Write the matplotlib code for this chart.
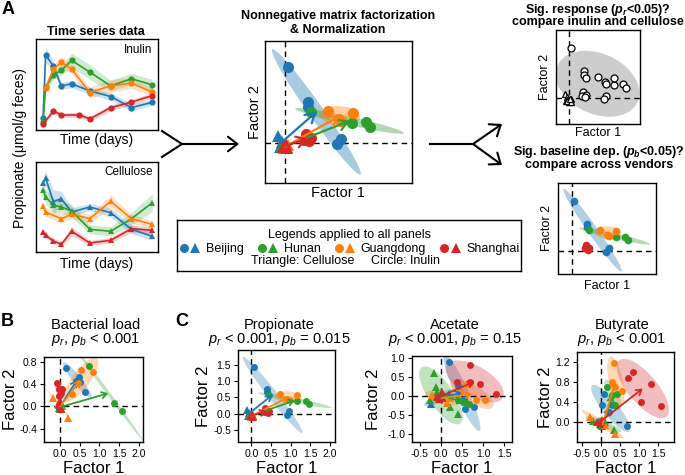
import numpy as np
import matplotlib
matplotlib.use("Agg")
import matplotlib.pyplot as plt
from matplotlib.patches import Ellipse, FancyArrowPatch
from matplotlib.lines import Line2D
from matplotlib.legend_handler import HandlerTuple

plt.rcParams['font.family'] = ['Liberation Sans', 'DejaVu Sans']
plt.rcParams['mathtext.fontset'] = 'custom'
plt.rcParams['mathtext.rm'] = 'Liberation Sans'
plt.rcParams['mathtext.it'] = 'Liberation Sans:italic'
plt.rcParams['mathtext.bf'] = 'Liberation Sans:bold'
plt.rcParams['mathtext.bfit'] = 'Liberation Sans:italic:bold'

nan = float("nan")

# ---------------- data ----------------
vendors = ["Beijing", "Hunan", "Guangdong", "Shanghai"]
vendor_colors = ["#1f77b4", "#2ca02c", "#ff7f0e", "#d62728"]

# Panel A time series (propionate, arbitrary units)
inu_days = [0, 0.5, 2, 3.5, 5.5, 7, 9, 13, 17, 21]
inu_beijing = [1.29, 8.27, 6.99, 4.85, 5.07, nan, 4.30, 3.68, 2.46, 3.05]
inu_hunan = [0.90, 4.71, 6.07, 6.54, 7.65, nan, 6.36, 4.85, 5.63, 4.96]
inu_guangdong = [nan, 4.60, 6.69, 7.43, 6.69, nan, 4.12, 4.85, 5.15, 4.15]
inu_shanghai = [0.63, nan, 2.10, 1.65, nan, 1.65, 1.21, 2.46, 3.05, 3.79]
inu_beijing_err = [0.3, 0.9, 0.5, 0.4, 0.4, nan, 0.4, 0.4, 0.4, 0.3]
inu_hunan_err = [0.3, 0.5, 0.5, 0.5, 0.8, nan, 0.8, 0.6, 0.6, 0.6]
inu_guangdong_err = [nan, 0.5, 0.6, 0.6, 0.5, nan, 0.6, 0.7, 0.6, 0.4]
inu_shanghai_err = [0.2, nan, 0.3, 0.25, nan, 0.3, 0.3, 0.3, 0.3, 0.3]

cel_days = [0, 0.5, 2, 3.5, 5.5, 9, 13, 17, 21]
cel_beijing = [7.70, 8.20, 5.60, 5.93, 4.44, 5.00, 4.37, 2.52, 1.74]
cel_hunan = [6.93, 6.11, 5.19, 5.00, 4.56, 2.52, 2.30, 3.70, 5.48]
cel_guangdong = [5.07, 4.44, nan, 3.70, 4.19, 3.70, 5.63, 3.70, 3.07]
cel_shanghai = [2.22, 1.85, 1.22, 0.85, 2.30, 1.00, 1.30, 2.59, 2.41]
cel_beijing_err = [0.6, 0.8, 1.3, 0.8, 0.5, 0.4, 0.5, 0.5, 0.4]
cel_hunan_err = [0.6, 0.8, 0.8, 0.7, 0.7, 0.5, 0.5, 0.7, 1.0]
cel_guangdong_err = [0.5, 0.5, nan, 0.5, 0.5, 0.5, 0.7, 0.5, 0.4]
cel_shanghai_err = [0.3, 0.3, 0.3, 0.3, 0.5, 0.3, 0.3, 0.4, 0.4]

# NMF factors, vendor order: Beijing, Hunan, Guangdong, Shanghai
prop_inu_f1 = [[0.06, 0.39, 0.39, 0.96, 0.90], [0.44, 1.15, 1.39, 1.46], [0.74, 1.16, 0.92, 0.96], [0.36, 0.44, 0.33, 0.42]]
prop_inu_f2 = [[1.43, 0.77, 0.67, 0.07, -0.03], [0.58, 0.38, 0.40, 0.29], [0.60, 0.57, 0.45, 0.41], [0.16, 0.08, 0.06, 0.03]]
prop_cel_f1 = [[-0.11, -0.05, 0.00, -0.08], [-0.02, 0.03, 0.00, -0.05], [0.02, -0.03, 0.05, 0.00], [0.00, -0.04, 0.04, 0.02]]
prop_cel_f2 = [[0.12, 0.02, -0.05, -0.08], [-0.05, -0.08, -0.10, -0.06], [-0.06, -0.09, -0.04, -0.10], [-0.05, -0.08, -0.10, -0.02]]

bac_inu_f1 = [[0.15, 0.48, 0.51, 0.64, 0.40], [0.73, 1.37, 1.58], [0.53, 0.83, 0.45, 0.30], [-0.09, 0.06, -0.04, -0.02, 0.02]]
bac_inu_f2 = [[0.70, 0.53, 0.44, 0.26, 0.45], [0.72, 0.07, -0.08], [0.65, 0.62, 0.42, 0.22], [0.42, 0.32, 0.31, 0.19, 0.25]]
bac_cel_f1 = [[0.00, -0.03, 0.03, 0.01], [0.02, -0.02, 0.04, 0.00], [-0.19, 0.21, 0.02, -0.05], [0.00, -0.02, 0.03, 0.00]]
bac_cel_f2 = [[0.02, -0.02, 0.05, -0.04], [-0.02, 0.03, 0.00, -0.05], [0.16, -0.20, 0.00, 0.05], [0.00, 0.05, -0.05, 0.10]]

ace_inu_f1 = [[0.19, 0.40, 0.57, 0.78, 0.55], [0.53, 0.67, 0.41, 0.60], [0.61, 0.84, 1.04, 0.45], [0.69, 0.38, 0.70, 0.92, 1.31]]
ace_inu_f2 = [[0.88, 0.25, -0.35, -0.29, -0.10], [-0.16, -0.23, -0.11, -0.20], [0.30, -0.11, -0.11, 0.09], [0.81, 0.37, 0.35, 0.30, 0.04]]
ace_cel_f1 = [[-0.23, 0.20, -0.10, 0.05], [-0.17, -0.11, -0.25, 0.22, 0.41, -0.09], [-0.21, 0.14, -0.08, 0.22], [-0.05, 0.02, -0.10, 0.03]]
ace_cel_f2 = [[-0.21, 0.05, 0.00, -0.05], [0.59, 0.24, -0.11, -0.29, -0.47, 0.09], [0.02, -0.20, -0.03, -0.05], [-0.10, 0.09, -0.03, -0.06]]

but_inu_f1 = [[0.07, 0.04, 0.29, 0.68, 0.20], [0.16, 0.42, 0.37, 0.28], [0.34, 0.29, 0.38, 0.55], [0.85, 0.72, 1.31, 1.05, 1.57]]
but_inu_f2 = [[0.57, 0.34, 0.34, -0.08, 0.20], [0.71, 0.57, 0.34, 0.55], [1.18, 0.80, 0.70, 0.62], [1.01, 0.88, 0.76, 0.41, 0.32]]
but_cel_f1 = [[0.03, 0.00, -0.05, 0.05], [-0.22, 0.35, 0.00, 0.10], [0.37, -0.30, 0.10, 0.00], [-0.10, -0.02, 0.04, 0.00]]
but_cel_f2 = [[-0.08, -0.02, 0.02, 0.00], [0.03, -0.15, -0.05, 0.00], [-0.24, 0.10, -0.05, 0.02], [0.01, -0.03, 0.05, 0.00]]

# ---------------- figure helpers ----------------
W, H = 685, 475
fig = plt.figure(figsize=(W / 100, H / 100), dpi=100)


def fx(x):
    return x / W


def fy(y):
    return 1 - y / H


def px_axes(x0, y0, x1, y1):
    ax = fig.add_axes([fx(x0), fy(y1), (x1 - x0) / W, (y1 - y0) / H])
    for s in ax.spines.values():
        s.set_linewidth(1.0)
    return ax


def ftext(x, y, s, **kw):
    kw.setdefault('ha', 'center')
    kw.setdefault('va', 'center')
    return fig.text(fx(x), fy(y), s, **kw)


def add_ellipse(ax, x, y, color, alpha, n_std=2.0, zorder=1):
    x = np.asarray(x, float)
    y = np.asarray(y, float)
    cov = np.cov(x, y)
    vals, vecs = np.linalg.eigh(cov)
    order = vals.argsort()[::-1]
    vals = vals[order]
    vecs = vecs[:, order]
    angle = np.degrees(np.arctan2(vecs[1, 0], vecs[0, 0]))
    w, h = 2 * n_std * np.sqrt(np.maximum(vals, 1e-5))
    ax.add_patch(Ellipse((x.mean(), y.mean()), w, h, angle=angle,
                         facecolor=color, alpha=alpha, edgecolor='none', zorder=zorder))


def zero_lines(ax):
    ax.axhline(0, color='black', lw=1.0, ls=(0, (4, 3)), zorder=2)
    ax.axvline(0, color='black', lw=1.0, ls=(0, (4, 3)), zorder=2)


def nmf_panel(ax, inu_f1, inu_f2, cel_f1, cel_f2, ms_c, ms_t, arrow_lw, arrow_scale,
              ell_alpha=0.35, show_cel=True, show_arrows=True):
    for i, c in enumerate(vendor_colors):
        add_ellipse(ax, inu_f1[i], inu_f2[i], c, ell_alpha)
        if show_cel:
            add_ellipse(ax, cel_f1[i], cel_f2[i], c, ell_alpha)
    zero_lines(ax)
    for i, c in enumerate(vendor_colors):
        if show_cel:
            ax.plot(cel_f1[i], cel_f2[i], ls='', marker='^', ms=ms_t, color=c, mew=0, zorder=3)
        ax.plot(inu_f1[i], inu_f2[i], ls='', marker='o', ms=ms_c, color=c, mew=0, zorder=3)
    if show_arrows:
        for i, c in enumerate(vendor_colors):
            ax.annotate('', xy=(np.mean(inu_f1[i]), np.mean(inu_f2[i])),
                        xytext=(np.mean(cel_f1[i]), np.mean(cel_f2[i])),
                        arrowprops=dict(arrowstyle='->,head_length=0.4,head_width=0.25',
                                        color=c, lw=arrow_lw, shrinkA=0, shrinkB=0,
                                        mutation_scale=arrow_scale),
                        zorder=4)


def ts_panel(ax, days, series, errs, marker, label, lx, ly):
    d = np.asarray(days, float)
    for vals, err, c in zip(series, errs, vendor_colors):
        v = np.asarray(vals, float)
        e = np.asarray(err, float)
        m = ~np.isnan(v)
        ax.fill_between(d[m], v[m] - e[m], v[m] + e[m], color=c, alpha=0.22, lw=0)
        ax.plot(d[m], v[m], color=c, lw=1.2, marker=marker, ms=4.5 if marker == 'o' else 5, mew=0)
    ax.set_xlim(-1.35, 22.1)
    ax.set_ylim(0, 10)
    ax.set_xticks([])
    ax.set_yticks([])
    ax.text(lx, ly, label, transform=ax.transAxes, ha='right', va='center', fontsize=8.5)


# ---------------- Panel A: time series ----------------
ax_inu = px_axes(36, 39, 158, 130)
ts_panel(ax_inu, inu_days, [inu_beijing, inu_hunan, inu_guangdong, inu_shanghai],
         [inu_beijing_err, inu_hunan_err, inu_guangdong_err, inu_shanghai_err], 'o', 'Inulin', 0.955, 0.88)
ax_cel = px_axes(36, 162, 158, 252)
ts_panel(ax_cel, cel_days, [cel_beijing, cel_hunan, cel_guangdong, cel_shanghai],
         [cel_beijing_err, cel_hunan_err, cel_guangdong_err, cel_shanghai_err], '^', 'Cellulose', 0.96, 0.89)

ftext(8, 9, 'A', fontsize=13, fontweight='bold')
ftext(96, 35, 'Time series data', fontsize=9, fontweight='bold', va='baseline')
ftext(97, 140, 'Time (days)', fontsize=10)
ftext(97, 264, 'Time (days)', fontsize=10)
ftext(20, 148, 'Propionate (μmol/g feces)', fontsize=10, rotation=90)

# ---------------- Panel A: NMF middle ----------------
ax_mid = px_axes(265, 41, 412, 183)
nmf_panel(ax_mid, prop_inu_f1, prop_inu_f2, prop_cel_f1, prop_cel_f2, 8, 8.5, 1.6, 16, ell_alpha=0.38)
ax_mid.set_xlim(-0.34, 2.18)
ax_mid.set_ylim(-0.76, 1.92)
ax_mid.set_xticks([])
ax_mid.set_yticks([])
ftext(338, 19, 'Nonnegative matrix factorization', fontsize=9, fontweight='bold', va='baseline')
ftext(338, 33, '& Normalization', fontsize=9, fontweight='bold', va='baseline')
ftext(255, 112, 'Factor 2', fontsize=10.5, rotation=90)
ftext(338, 193, 'Factor 1', fontsize=10.5)

# ---------------- Panel A: right top (response) ----------------
ax_rt = px_axes(556, 30, 640, 124)
all_inu_f1 = np.concatenate([np.asarray(a, float) for a in prop_inu_f1])
all_inu_f2 = np.concatenate([np.asarray(a, float) for a in prop_inu_f2])
all_cel_f1 = np.concatenate([np.asarray(a, float) for a in prop_cel_f1])
all_cel_f2 = np.concatenate([np.asarray(a, float) for a in prop_cel_f2])
add_ellipse(ax_rt, all_inu_f1, all_inu_f2, '#cdcdcd', 1.0, n_std=2.6)
add_ellipse(ax_rt, all_cel_f1, all_cel_f2, '#cdcdcd', 1.0, n_std=2.0)
zero_lines(ax_rt)
ax_rt.plot(all_cel_f1, all_cel_f2, ls='', marker='^', ms=5, mfc='white', mec='black', mew=0.9, zorder=3)
ax_rt.plot(all_inu_f1, all_inu_f2, ls='', marker='o', ms=5, mfc='white', mec='black', mew=0.9, zorder=3)
ax_rt.set_xlim(-0.335, 1.825)
ax_rt.set_ylim(-0.74, 1.94)
ax_rt.set_xticks([])
ax_rt.set_yticks([])
ftext(598, 13, r'Sig. response ($\mathbfit{p_r}$<0.05)?', fontsize=9, fontweight='bold', va='baseline')
ftext(598, 25.5, 'compare inulin and cellulose', fontsize=9, fontweight='bold', va='baseline')
ftext(545, 77, 'Factor 2', fontsize=9, rotation=90)
ftext(598, 133, 'Factor 1', fontsize=9)

# ---------------- Panel A: right bottom (baseline) ----------------
ax_rb = px_axes(558, 183, 656, 274)
nmf_panel(ax_rb, prop_inu_f1, prop_inu_f2, prop_cel_f1, prop_cel_f2, 5.5, 5.5, 1.2, 10,
          ell_alpha=0.35, show_cel=False, show_arrows=False)
ax_rb.set_xlim(-0.36, 2.19)
ax_rb.set_ylim(-0.67, 1.93)
ax_rb.set_xticks([])
ax_rb.set_yticks([])
ftext(599, 155, r'Sig. baseline dep. ($\mathbfit{p_b}$<0.05)?', fontsize=9, fontweight='bold', va='baseline')
ftext(599, 168, 'compare across vendors', fontsize=9, fontweight='bold', va='baseline')
ftext(547, 228, 'Factor 2', fontsize=9, rotation=90)
ftext(607, 286, 'Factor 1', fontsize=9)

# ---------------- arrows in panel A ----------------
fig.add_artist(Line2D([fx(162), fx(182), fx(162)], [fy(131), fy(144), fy(157)],
                      transform=fig.transFigure, color='black', lw=1.5))
for (xa, ya), (xb, yb) in [((182, 144), (239, 144)), ((473, 144), (502, 124)), ((473, 144), (502, 165))]:
    fig.add_artist(FancyArrowPatch((fx(xa), fy(ya)), (fx(xb), fy(yb)), transform=fig.transFigure,
                                   arrowstyle='->,head_length=0.45,head_width=0.35', mutation_scale=15,
                                   color='black', lw=1.5, shrinkA=0, shrinkB=0))
fig.add_artist(Line2D([fx(430), fx(474)], [fy(144), fy(144)], transform=fig.transFigure, color='black', lw=1.5))

# ---------------- legend box ----------------
lax = px_axes(177, 220, 521, 271)
lax.set_xticks([])
lax.set_yticks([])
handles = [(Line2D([], [], ls='', marker='o', ms=6.5, color=c, mew=0),
            Line2D([], [], ls='', marker='^', ms=7.5, color=c, mew=0)) for c in vendor_colors]
lax.legend(handles, vendors, handler_map={tuple: HandlerTuple(ndivide=None, pad=0.0)},
           ncol=4, loc='upper center', bbox_to_anchor=(0.5, 1.0), frameon=False,
           title='Legends applied to all panels', fontsize=9, title_fontsize=9,
           handlelength=1.8, handletextpad=0.4, columnspacing=1.0,
           borderpad=0.25, labelspacing=0.15, handleheight=0.6)
lax.text(0.366, 0.2, 'Triangle: Cellulose', transform=lax.transAxes, ha='center', va='center', fontsize=9)
lax.text(0.663, 0.2, 'Circle: Inulin', transform=lax.transAxes, ha='center', va='center', fontsize=9)

# ---------------- Panels B and C ----------------
bottom_specs = [
    ((44, 357, 143, 442), bac_inu_f1, bac_inu_f2, bac_cel_f1, bac_cel_f2,
     (-0.41, 2.11), (-0.64, 0.89), [0.0, 0.5, 1.0, 1.5, 2.0], [-0.4, 0.0, 0.4, 0.8],
     'Bacterial load', r'$p_r$, $p_b$ < 0.001', 96, 11),
    ((238, 350, 335, 442), prop_inu_f1, prop_inu_f2, prop_cel_f1, prop_cel_f2,
     (-0.34, 2.13), (-0.88, 1.97), [0.0, 0.5, 1.0, 1.5, 2.0], [-0.5, 0.0, 0.5, 1.0, 1.5],
     'Propionate', r'$p_r$ < 0.001, $p_b$ = 0.015', 279, 204),
    ((412, 356, 512, 442), ace_inu_f1, ace_inu_f2, ace_cel_f1, ace_cel_f2,
     (-0.68, 1.68), (-1.22, 1.045), [-0.5, 0.0, 0.5, 1.0, 1.5], [-1.0, -0.5, 0.0, 0.5, 1.0],
     'Acetate', r'$p_r$ < 0.001, $p_b$ = 0.15', 455, 374),
    ((577, 352, 674, 442), but_inu_f1, but_inu_f2, but_cel_f1, but_cel_f2,
     (-0.63, 1.92), (-0.40, 1.41), [-0.5, 0.0, 0.5, 1.0, 1.5], [0.0, 0.4, 0.8, 1.2],
     'Butyrate', r'$p_r$, $p_b$ < 0.001', 622, 546),
]
for rect, i1, i2, c1, c2, xl, yl, xt, yt, t1, t2, tx, ylx in bottom_specs:
    ax = px_axes(*rect)
    nmf_panel(ax, i1, i2, c1, c2, 5, 5.5, 1.3, 9, ell_alpha=0.3)
    ax.set_xlim(*xl)
    ax.set_ylim(*yl)
    ax.set_xticks(xt)
    ax.set_yticks(yt)
    ax.xaxis.set_major_formatter(matplotlib.ticker.FormatStrFormatter('%.1f'))
    ax.yaxis.set_major_formatter(matplotlib.ticker.FormatStrFormatter('%.1f'))
    ax.tick_params(labelsize=7.5, length=3, width=0.8, pad=2)
    ftext(tx, 329, t1, fontsize=10.5, va='baseline')
    ftext(tx, 343, t2, fontsize=10.5, va='baseline')
    ftext((rect[0] + rect[2]) / 2, 473, 'Factor 1', fontsize=12, va='baseline')
    ftext(ylx, (rect[1] + rect[3]) / 2, 'Factor 2', fontsize=12, rotation=90)

ftext(7, 322, 'B', fontsize=13, fontweight='bold')
ftext(182, 322, 'C', fontsize=13, fontweight='bold')

fig.savefig('out.png', dpi=100)
